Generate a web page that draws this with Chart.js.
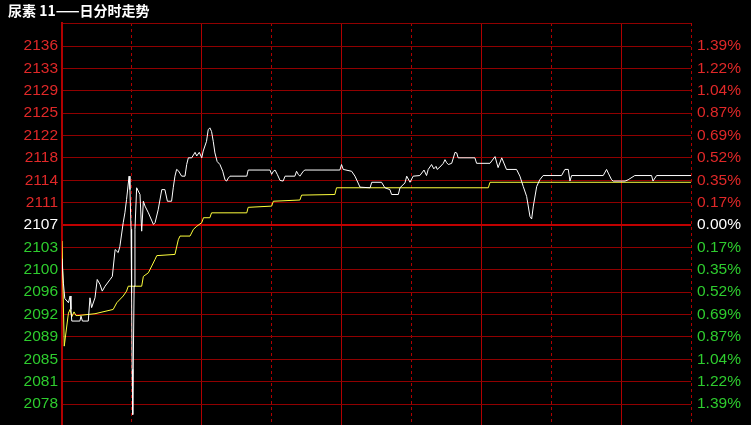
<!DOCTYPE html>
<html>
<head>
<meta charset="utf-8">
<script src="https://cdn.jsdelivr.net/npm/chart.js"></script>
<style>
  html, body { margin: 0; padding: 0; background: #000; overflow: hidden; }
  #box { position: relative; width: 751px; height: 425px; }
  #title { position: absolute; left: 8px; top: 0; height: 23px; line-height: 23px; color: #fff;
           font: bold 14px "Noto Sans CJK SC", sans-serif; white-space: nowrap; }
</style>
</head>
<body>
<div id="box">
  <canvas id="fenshiChart" width="751" height="425"></canvas>
  <div id="title">尿素 11——日分时走势</div>
</div>
<script>
// 刻度文字，从下到上
var priceLabels = ['2078', '2081', '2085', '2089', '2092', '2096', '2100', '2103', '2107',
                   '2111', '2114', '2118', '2122', '2125', '2129', '2133', '2136'];
var pctLabels = ['1.39%', '1.22%', '1.04%', '0.87%', '0.69%', '0.52%', '0.35%', '0.17%', '0.00%',
                 '0.17%', '0.35%', '0.52%', '0.69%', '0.87%', '1.04%', '1.22%', '1.39%'];
var prevClose = 2107;
var tickStep = 3.66;
var yMin = 2074.3, yMax = 2140.05;
var dayMinutes = 225; // 9:00-10:15, 10:30-11:30, 13:30-15:00

// 分时价格（白线）
var priceMinutes = [0, 0.5, 1, 2.3, 2.9, 3.2, 3.5, 6.4, 6.8, 7.3, 9.4, 10, 10.6, 11.8, 12.6, 13.6, 14.4, 15.4,
  17.2, 18, 19, 20.1, 20.7, 21.9, 22.5, 23.1, 24, 24.3, 24.7, 24.9, 25.1, 25.3, 25.8, 26.1, 26.7, 27.9,
  28.5, 29.1, 29.7, 30.9, 32.7, 33.3, 34.4, 35.7, 36.8, 37.7, 39.2, 39.8, 40.4, 41, 41.6, 42.8, 44, 44.6,
  45.2, 46.4, 47.6, 48.2, 49.1, 50, 50.5, 51.7, 52.3, 52.9, 53.5, 54.1, 54.7, 55.5, 56.5, 57.5, 58.3,
  58.9, 59.5, 60.1, 66.1, 66.6, 74.4, 75, 75.6, 76.2, 77, 78, 79.1, 79.8, 83.3, 83.9, 84.5, 85.1, 86.3,
  86.9, 99.4, 100, 100.6, 103.6, 104.8, 106.6, 110.2, 110.8, 114.3, 115.5, 117.3, 117.9, 120.3, 120.9,
  122.7, 123.3, 124.5, 125.6, 128, 129.5, 130.4, 131, 132.2, 133, 133.8, 134.2, 135.2, 136.4, 137,
  137.6, 138.2, 139.4, 140.6, 141.2, 141.7, 147.7, 148.3, 153.1, 154.9, 156, 157.3, 159, 162.6, 163.8,
  165, 166.2, 167.4, 168, 168.6, 169.8, 170.9, 172.1, 178.7, 179.9, 181.1, 181.7, 182.3, 193.6, 194.8,
  195.4, 196.6, 197.2, 201.4, 202.5, 204.9, 210.9, 211.4, 212.7, 225];
var priceValues = [2101.5, 2097.5, 2095, 2094.3, 2095.4, 2093.2, 2091.3, 2091.3, 2092.1, 2091.3, 2091.3,
  2095.1, 2093.5, 2095.1, 2098.1, 2097.3, 2096.2, 2097, 2098.1, 2098.6, 2103, 2102.5, 2103.5, 2107.4,
  2109, 2111.2, 2115, 2112.8, 2106.3, 2095.9, 2083.4, 2076, 2097, 2106.3, 2113.1, 2112, 2106, 2110.9,
  2110.1, 2109, 2107.1, 2107.4, 2109.5, 2112.8, 2112.8, 2110.9, 2110.9, 2113.1, 2115, 2116.1, 2115.9,
  2115, 2115, 2116.9, 2118, 2118, 2118.9, 2118.3, 2118.9, 2118, 2119.1, 2120.7, 2122.6, 2122.9, 2122.3,
  2120.7, 2118.8, 2117.4, 2116.9, 2115.8, 2114.4, 2114.2, 2114.7, 2115, 2115, 2116, 2116, 2115.3,
  2115.8, 2116, 2115.3, 2114.3, 2114.2, 2115, 2115, 2115.8, 2115.3, 2115, 2115.8, 2116, 2116, 2116.9,
  2116.1, 2115.8, 2115, 2113.2, 2113.1, 2114, 2114, 2113.1, 2112.8, 2112, 2112, 2113.1, 2113.9, 2115,
  2114, 2115, 2115.1, 2116, 2115.1, 2116.1, 2116.9, 2116.2, 2116.6, 2116.1, 2116.5, 2117.1, 2117.7,
  2117.2, 2116.9, 2117.1, 2118.9, 2118.8, 2118, 2118, 2117.1, 2117.1, 2118.2, 2116.4, 2118, 2116.1,
  2116.1, 2115, 2113.3, 2111.7, 2108.4, 2108, 2110.1, 2113.3, 2114.4, 2115.1, 2115.1, 2116.1, 2116.1,
  2114.2, 2115.1, 2115.1, 2116.1, 2115.5, 2114.4, 2114.2, 2114.2, 2114.4, 2115.1, 2115.1, 2114.2,
  2115.1, 2115.1];

// 均价（黄线）
var avgMinutes = [0, 0.8, 2.3, 2.9, 3.5, 4.3, 5, 5.7, 11.8, 18.3, 19.6, 21.9, 23.1, 23.7, 28.5, 29.1,
  30.9, 32.1, 33.3, 33.9, 40.4, 41.6, 42.2, 45.8, 47, 48.2, 50, 50.6, 52.9, 53.5, 66.1, 66.6, 75, 75.6,
  85.1, 85.7, 97.6, 98.2, 152.5, 153.1, 225];
var avgValues = [2104.4, 2087.2, 2092.6, 2093.2, 2092, 2092.8, 2092.2, 2092.2, 2092.5, 2093.2, 2094.3,
  2095.4, 2096.2, 2097, 2097, 2098.6, 2099.2, 2100.3, 2101.4, 2102, 2102.2, 2104.6, 2105.2, 2105.2,
  2106.3, 2106.8, 2107.4, 2108.2, 2108.2, 2109, 2109, 2109.9, 2110.1, 2110.9, 2111.1, 2111.9, 2112,
  2113.1, 2113.1, 2114, 2114];

var solidLineMinutes = [0, 50, 100, 150, 200];
var dashLineMinutes = [25, 75, 125, 175, 225];

// 纵轴刻度：上下边框 + 17 条价格线
var yTicks = [yMin];
for (var k = -8; k <= 8; k++) yTicks.push(prevClose + k * tickStep);
yTicks.push(yMax);
var lastTick = yTicks.length - 1;
var midTick = 9;

function toPoints(xs, ys) {
  return xs.map(function (x, i) { return { x: x, y: ys[i] }; });
}
function setYTicks(scale) {
  scale.ticks = yTicks.map(function (v) { return { value: v }; });
}
function tickColor(c) {
  if (c.index === midTick) return '#ffffff';
  return c.index < midTick ? '#2ecc2e' : '#e02828';
}
function tickFont(c) {
  var edge = c.index === 0 || c.index === lastTick;
  return { family: 'Liberation Sans, Arial, sans-serif', size: 15.5, lineHeight: edge ? 0 : 1.2 };
}

var ctx = document.getElementById('fenshiChart').getContext('2d');
var fenshiChart = new Chart(ctx, {
  type: 'line',
  data: {
    datasets: [{
      label: '价格',
      data: toPoints(priceMinutes, priceValues),
      borderColor: '#ffffff',
      borderWidth: 1,
      pointRadius: 0,
      tension: 0,
      xAxisID: 'x',
      yAxisID: 'y'
    }, {
      label: '均价',
      data: toPoints(avgMinutes, avgValues),
      borderColor: '#ffff3c',
      borderWidth: 1,
      pointRadius: 0,
      tension: 0,
      xAxisID: 'x',
      yAxisID: 'y'
    }]
  },
  options: {
    responsive: false,
    animation: false,
    layout: { padding: { top: 23, bottom: 0, left: 0, right: 0 } },
    plugins: { legend: { display: false }, tooltip: { enabled: false } },
    scales: {
      x: {
        type: 'linear', position: 'bottom', min: 0, max: dayMinutes,
        afterBuildTicks: function (s) { s.ticks = solidLineMinutes.map(function (v) { return { value: v }; }); },
        afterFit: function (s) { s.height = 0; },
        ticks: { display: false },
        grid: { color: '#b00000', lineWidth: 1, drawTicks: false },
        border: { display: false }
      },
      x2: {
        type: 'linear', position: 'bottom', min: 0, max: dayMinutes,
        afterBuildTicks: function (s) { s.ticks = dashLineMinutes.map(function (v) { return { value: v }; }); },
        afterFit: function (s) { s.height = 0; },
        ticks: { display: false },
        grid: { color: '#b00000', lineWidth: 1, drawTicks: false },
        border: { display: false, dash: [3, 3] }
      },
      y: {
        type: 'linear', position: 'left', min: yMin, max: yMax,
        afterBuildTicks: setYTicks,
        afterFit: function (s) { s.width = 62; },
        ticks: {
          autoSkip: false,
          padding: 0,
          color: tickColor,
          font: tickFont,
          callback: function (v, i) { return (i === 0 || i === lastTick) ? '' : priceLabels[i - 1]; }
        },
        grid: {
          drawTicks: true,
          tickLength: 4,
          tickColor: 'rgba(0,0,0,0)',
          color: function (c) {
            if (c.index === 0) return 'rgba(0,0,0,0)';
            return c.index === midTick ? '#c00000' : '#900000';
          },
          lineWidth: function (c) { return c.index === midTick ? 2 : 1; }
        },
        border: { display: true, color: '#b00000', width: 2 }
      },
      yPct: {
        type: 'linear', position: 'right', min: yMin, max: yMax,
        afterBuildTicks: setYTicks,
        afterFit: function (s) { s.width = 60; },
        ticks: {
          autoSkip: false,
          padding: 0,
          color: tickColor,
          font: tickFont,
          callback: function (v, i) { return (i === 0 || i === lastTick) ? '' : pctLabels[i - 1]; }
        },
        grid: { drawOnChartArea: false, drawTicks: true, tickLength: 6, tickColor: 'rgba(0,0,0,0)' },
        border: { display: false }
      }
    }
  }
});
</script>
</body>
</html>
